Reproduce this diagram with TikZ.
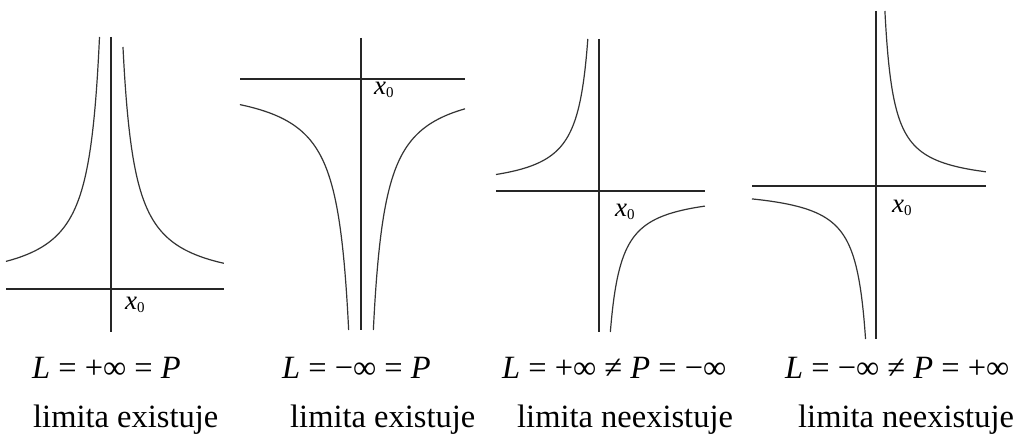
\documentclass[tikz,border=0pt]{standalone}
\usepackage{fontspec}
\setmainfont{Liberation Serif}
\newcommand{\xnull}{{\fontsize{27}{27}\selectfont\textit{x}\raisebox{-3pt}{\fontsize{15}{15}\selectfont 0}}}
\begin{document}
\begin{tikzpicture}[x=1pt,y=-1pt,
  axis/.style={line width=1.6pt,black!85},
  curve/.style={line width=1.2pt,black!80,smooth},
  lbl/.style={inner sep=0,anchor=base west,font=\fontsize{32.5}{38}\selectfont},
  xo/.style={inner sep=0,anchor=base west}]
\useasboundingbox[fill=white] (0,0) rectangle (1018,438);
% panel 1
\draw[axis] (111,37) -- (111,332);
\draw[axis] (6,289) -- (224,289);
\draw[curve] plot[domain=27.6:252,samples=150] ({111-2900/\x},{289-\x});
\draw[curve] plot[domain=25.7:242,samples=150] ({111+2900/\x},{289-\x});
\node[xo] (x1) at (125,310) {\xnull};
% panel 2
\draw[axis] (361,38) -- (361,330);
\draw[axis] (240,79) -- (465,79);
\draw[curve] plot[domain=25.6:251,samples=150] ({361-3100/\x},{79+\x});
\draw[curve] plot[domain=29.8:251,samples=150] ({361+3100/\x},{79+\x});
\node[xo] (x2) at (374,95) {\xnull};
% panel 3
\draw[axis] (599,39) -- (599,332);
\draw[axis] (496,191) -- (705,191);
\draw[curve] plot[domain=16.5:152,samples=150] ({599-1700/\x},{191-\x});
\draw[curve] plot[domain=15.1:141,samples=150] ({599+1600/\x},{191+\x});
\node[xo] (x3) at (615,217) {\xnull};
% panel 4
\draw[axis] (876,11) -- (876,339);
\draw[axis] (752,186) -- (986,186);
\draw[curve] plot[domain=14.2:175,samples=150] ({876+1560/\x},{186-\x});
\draw[curve] plot[domain=12.9:153,samples=150] ({876-1600/\x},{186+\x});
\node[xo] (x4) at (892,213) {\xnull};
% labels
\node[lbl] (f1) at (32,379) {\textit{L} = +∞ = \textit{P}};
\node[lbl] (t1) at (33,428) {limita existuje};
\node[lbl] (f2) at (282,379) {\textit{L} = −∞ = \textit{P}};
\node[lbl] (t2) at (290,428) {limita existuje};
\node[lbl] (f3) at (502,379) {\textit{L} = +∞ ≠ \textit{P} = −∞};
\node[lbl] (t3) at (517,428) {limita neexistuje};
\node[lbl] (f4) at (785,379) {\textit{L} = −∞ ≠ \textit{P} = +∞};
\node[lbl] (t4) at (798,428) {limita neexistuje};
\end{tikzpicture}
\end{document}
